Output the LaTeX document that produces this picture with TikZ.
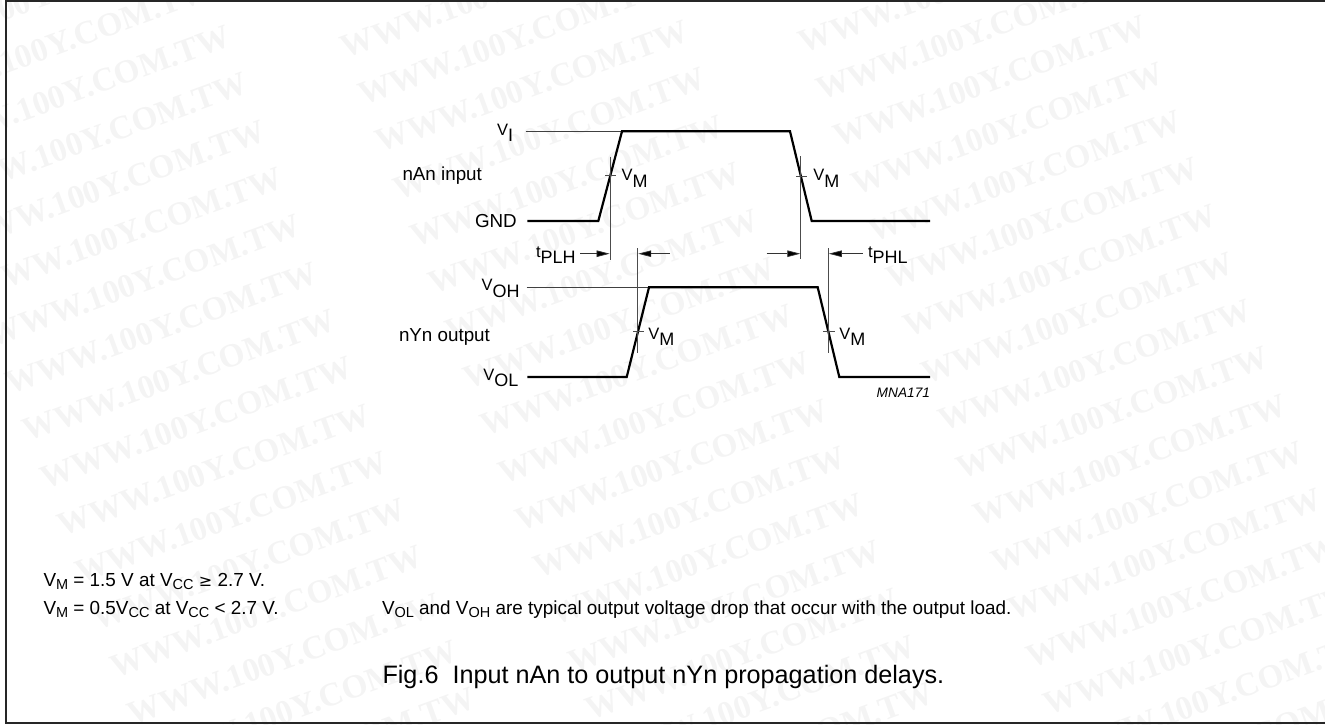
\documentclass[tikz,border=0pt]{standalone}
\usepackage{fontspec}
\setmainfont{Liberation Sans}
\newfontfamily\wmfont{Liberation Serif}[BoldFont={Liberation Serif Bold}]
\usetikzlibrary{arrows.meta}
\newcommand{\px}[1]{\fontsize{#1pt}{#1pt}\selectfont}
\newcommand{\vsub}[2]{{\px{16.5}#1}\raisebox{-6.3pt}{\px{18}#2}}
\newcommand{\nsub}[2]{#1\raisebox{-3.5pt}{\px{14.5}#2}}
\tikzset{
  wave/.style={line width=2.2pt,black,line join=miter},
  thin line/.style={line width=0.7pt,black!75},
  guide/.style={line width=0.8pt,black!70},
  dim/.style={line width=0.7pt,black!80,-{Triangle[length=13pt,width=6.5pt,fill=black]}},
  lab/.style={inner sep=0pt,outer sep=0pt,anchor=base west,black},
  sig/.style={lab,font=\px{18.8}},
  note/.style={lab,font=\px{18.9}},
  wm/.style={inner sep=0pt,anchor=east,rotate=20,text=black!4.5,font=\wmfont\bfseries\px{33.3}},
}
\begin{document}
\begin{tikzpicture}[x=1pt,y=-1pt]
\useasboundingbox (0,0) rectangle (1325,724);
% watermark
\foreach \r in {-2,...,15}{
  \foreach \c in {0,1,2}{
    \pgfmathsetmacro{\xx}{229+\c*458+\r*17.5}
    \pgfmathsetmacro{\yy}{35-\c*5+\r*47.3}
    \node[wm] (wm\r c\c) at (\xx,\yy) {WWW.100Y.COM.TW};
  }
}
% frame
\coordinate (fa) at (1326,1);
\coordinate (fb) at (6,1);
\coordinate (fc) at (6,723);
\coordinate (fd) at (1326,723);
\draw[line width=1.9pt,black!85] (fa) -- (fb) -- (fc) -- (fd);
% input wave
\coordinate (ia) at (527.3,221);
\coordinate (ib) at (598.3,221);
\coordinate (ic) at (622,131.3);
\coordinate (id) at (790,131.3);
\coordinate (ie) at (811.7,221);
\coordinate (if) at (930,221);
\coordinate (vi) at (525.7,131.3);
\draw[thin line,line width=0.9pt] (vi) -- (ic);
\draw[wave] (ia) -- (ib) -- (ic) -- (id) -- (ie) -- (if);
% output wave
\coordinate (oa) at (527.3,377);
\coordinate (ob) at (626.7,377);
\coordinate (oc) at (649,287.3);
\coordinate (od) at (817.7,287.3);
\coordinate (oe) at (839.3,377);
\coordinate (of) at (930,377);
\coordinate (vo) at (526.7,287.3);
\draw[thin line] (vo) -- (oc);
\draw[wave] (oa) -- (ob) -- (oc) -- (od) -- (oe) -- (of);
% guides
\coordinate (g1t) at (610,156.7); \coordinate (g1b) at (610,260);
\coordinate (g2t) at (637.7,248); \coordinate (g2b) at (637.7,353.3);
\coordinate (g3t) at (800.7,156); \coordinate (g3b) at (800.7,259);
\coordinate (g4t) at (828.3,248); \coordinate (g4b) at (828.3,353.3);
\draw[guide] (g1t) -- (g1b);
\draw[guide] (g2t) -- (g2b);
\draw[guide] (g3t) -- (g3b);
\draw[guide] (g4t) -- (g4b);
% ticks
\coordinate (t1a) at (605,175.3); \coordinate (t1b) at (615.7,175.3);
\coordinate (t2a) at (633,331.7); \coordinate (t2b) at (643.5,331.7);
\coordinate (t3a) at (796,176);   \coordinate (t3b) at (806.7,176);
\coordinate (t4a) at (823,331.7); \coordinate (t4b) at (835,331.7);
\draw[guide] (t1a) -- (t1b);
\draw[guide] (t2a) -- (t2b);
\draw[guide] (t3a) -- (t3b);
\draw[guide] (t4a) -- (t4b);
% arrows
\coordinate (a1s) at (580,253.7); \coordinate (a1e) at (609.6,253.7);
\coordinate (a2s) at (670,253.7); \coordinate (a2e) at (638.2,253.7);
\coordinate (a3s) at (766.7,253.7); \coordinate (a3e) at (800.3,253.7);
\coordinate (a4s) at (862.7,253.7); \coordinate (a4e) at (828.8,253.7);
\draw[dim] (a1s) -- (a1e);
\draw[dim] (a2s) -- (a2e);
\draw[dim] (a3s) -- (a3e);
\draw[dim] (a4s) -- (a4e);
% labels
\node[sig] (lvi) at (497,135) {\vsub{V}{I}};
\node[sig] (lin) at (402.5,180) {nAn input};
\node[sig] (lgnd) at (475,227.7) {GND};
\node[sig] (lvm1) at (621.7,180.7) {\vsub{V}{M}};
\node[sig] (lvm2) at (813.3,180.7) {\vsub{V}{M}};
\node[sig] (lplh) at (536,257.5) {\vsub{t}{PLH}};
\node[sig] (lphl) at (868,257.5) {\vsub{t}{PHL}};
\node[sig] (lvoh) at (481.7,290.7) {\vsub{V}{OH}};
\node[lab,font=\px{18.8}] (lout) at (399,341.7) {nYn output};
\node[sig] (lvol) at (483.3,380) {\vsub{V}{OL}};
\node[sig] (lvm3) at (648.3,339.3) {\vsub{V}{M}};
\node[sig] (lvm4) at (839.3,339.3) {\vsub{V}{M}};
\node[lab,font=\itshape\px{13.7}] (lcode) at (876.7,397.7) {MNA171};
\node[note] (n1) at (43.5,586) {\nsub{V}{M} = 1.5 V at \nsub{V}{CC} {\fontspec{DejaVu Sans}\px{16}≥} 2.7 V.};
\node[note] (n3) at (43.5,614) {\nsub{V}{M} = 0.5\nsub{V}{CC} at \nsub{V}{CC} < 2.7 V.};
\node[note] (n4) at (382,614) {\nsub{V}{OL} and \nsub{V}{OH} are typical output voltage drop that occur with the output load.};
\node[lab,font=\px{25.2}] (cap) at (382.5,683) {Fig.6\ \ Input nAn to output nYn propagation delays.};
\end{tikzpicture}
\end{document}
